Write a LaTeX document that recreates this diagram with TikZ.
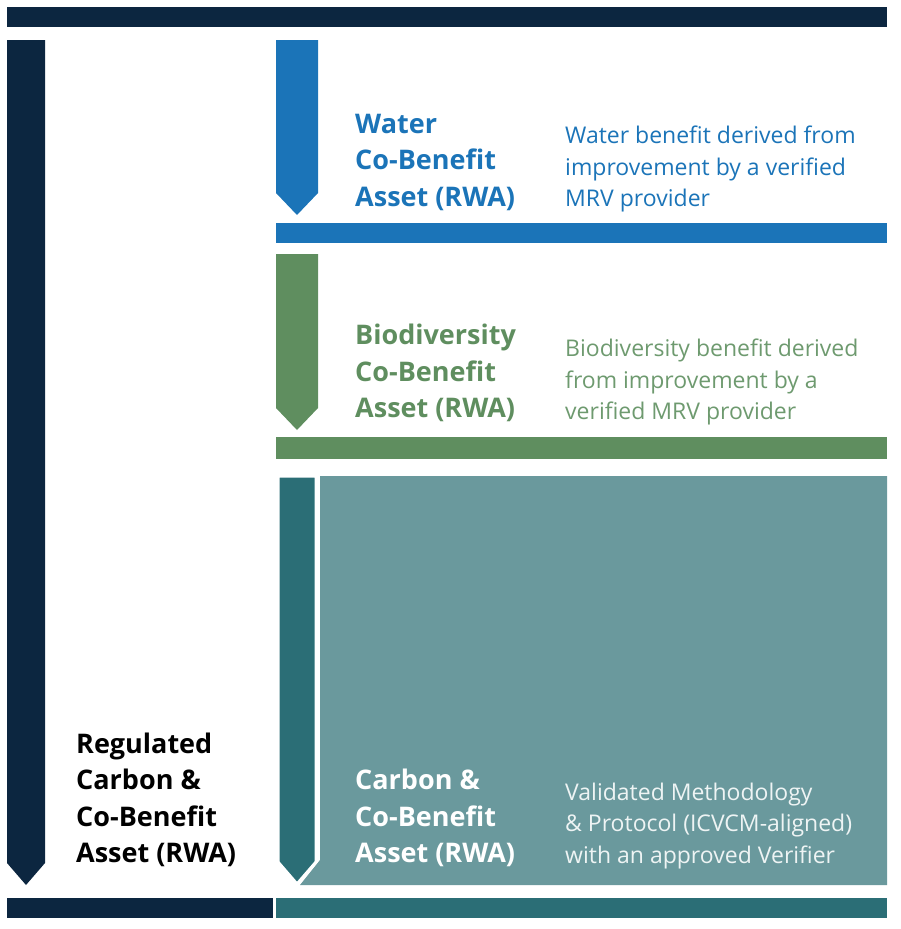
\documentclass[tikz,border=0pt]{standalone}
\usepackage{fontspec}
\setmainfont{Open Sans}
\definecolor{navy}{HTML}{0C2640}
\definecolor{wblue}{HTML}{1B74B8}
\definecolor{bgreen}{HTML}{5F8E5F}
\definecolor{bgreenl}{HTML}{6E9A6F}
\definecolor{tdark}{HTML}{2B6E76}
\definecolor{tlight}{HTML}{6A999D}
\definecolor{twhite}{HTML}{EEF4F4}
\tikzset{
  title/.style={anchor=west,align=left,inner sep=0pt,font=\fontsize{27}{36.5}\selectfont\bfseries},
  desc/.style={anchor=west,align=left,inner sep=0pt,font=\fontsize{23}{31.5}\selectfont},
}
\begin{document}
\begin{tikzpicture}[x=1pt,y=-1pt]
\useasboundingbox (0,0) rectangle (900,929);
% bars
\fill[navy] (7,7) rectangle (887,27);
\fill[navy] (7,898) rectangle (273,918);
\fill[tdark] (276,898) rectangle (887,918);
\fill[wblue] (276,223) rectangle (887,243);
\fill[bgreen] (276,437) rectangle (887,459);
% arrows
\fill[navy] (7,40) -- (45,40) -- (45,863) -- (26,885) -- (7,863) -- cycle;
\fill[wblue] (276,40) -- (318,40) -- (318,193) -- (297,215) -- (276,193) -- cycle;
\fill[bgreen] (276,254) -- (318,254) -- (318,408) -- (297,430) -- (276,408) -- cycle;
% carbon panel
\fill[tlight] (320,476) -- (887,476) -- (887,885) -- (300,885) -- (320,860) -- cycle;
\filldraw[fill=tdark,draw=white,line width=3pt,line join=miter] (278,476) -- (316,476) -- (316,862) -- (297,884) -- (278,862) -- cycle;
% texts
\node[title,text=wblue] (wt) at (355,162) {Water\\Co-Benefit\\Asset (RWA)};
\node[desc,text=wblue] (wd) at (565,169) {Water benefit derived from\\improvement by a verified\\MRV provider};
\node[title,text=bgreen] (bt) at (355,373) {Biodiversity\\Co-Benefit\\Asset (RWA)};
\node[desc,text=bgreenl] (bd) at (565,382) {Biodiversity benefit derived\\from improvement by a\\verified MRV provider};
\node[title,text=white] (ct) at (355,818) {Carbon \&\\Co-Benefit\\Asset (RWA)};
\node[desc,text=twhite] (cd) at (565,826) {Validated Methodology\\\& Protocol (ICVCM-aligned)\\with an approved Verifier};
\node[title,text=black] (rt) at (76,800) {Regulated\\Carbon \&\\Co-Benefit\\Asset (RWA)};
\end{tikzpicture}
\end{document}
